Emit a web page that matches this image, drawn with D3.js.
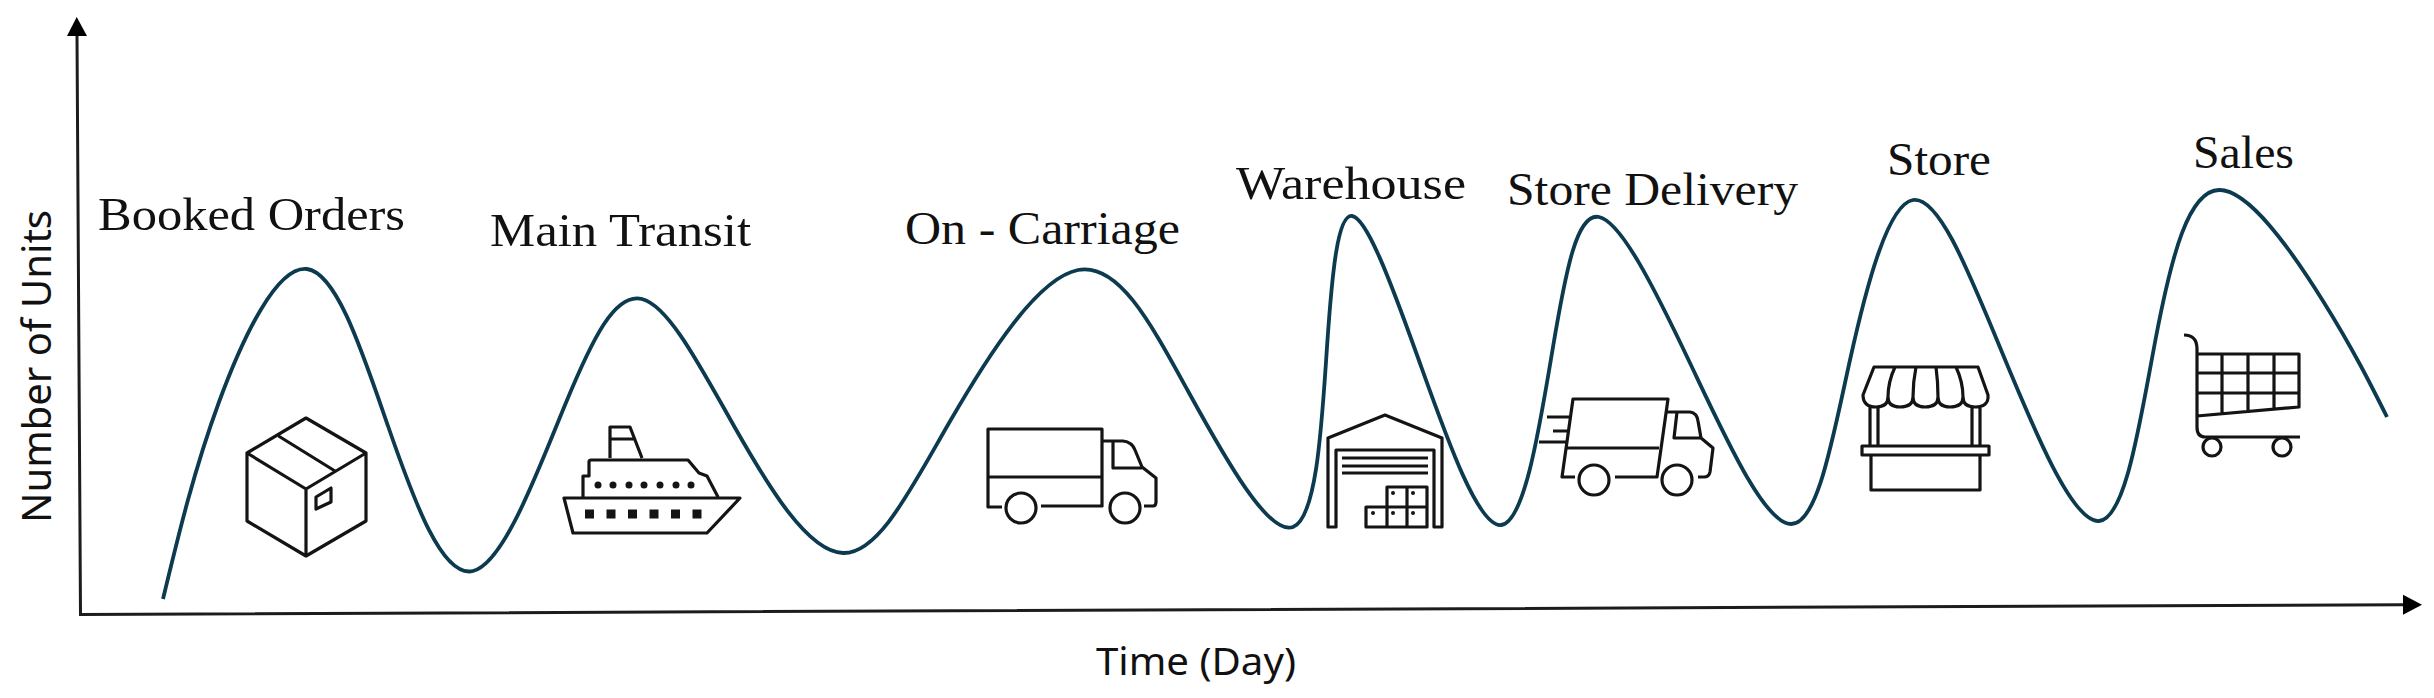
<!DOCTYPE html>
<html>
<head>
<meta charset="utf-8">
<script src="https://cdn.jsdelivr.net/npm/d3@7/dist/d3.min.js"></script>
<style>html,body{margin:0;padding:0;background:#fff;overflow:hidden}svg{display:block}</style>
</head>
<body>
<svg id="chart" width="2434" height="698"></svg>
<script>
const timeValues = [8.1,13.7,22.5,30.6,39.1,48.3,56.0,65.2,76.1,86.7,99.6,110.6,121.1,124.5,127.0,133.5,141.9,147.1,151.7,160.8,170.9,176.8,183.1,191.7,201.7,207.4,213.7,224.1,230.5];
const unitValues = [1.6,21.3,34.6,18.9,4.4,21.0,31.6,18.9,6.2,19.2,34.5,22.4,8.8,26.8,39.9,26.0,9.0,26.8,39.8,25.2,9.1,25.5,41.5,27.0,9.4,27.8,42.5,31.4,19.8];

const stages = ["Booked Orders","Main Transit","On - Carriage","Warehouse","Store Delivery","Store","Sales"];
const stageLabelTime = [1.6,40.8,82.3,115.4,142.5,180.5,211.1];
const stageLabelUnit = [38.5,36.9,37.1,41.6,41.0,44.0,44.7];
const stageLabelSpan = [30.7,26.1,27.5,23.0,29.1,10.4,10.1];
const iconTime = [16.5,48.2,90.6,124.6,145.7,178.0,210.2];
const iconUnit = [19.7,18.8,18.6,20.0,21.6,24.8,28.0];

const xAxisTitle = "Time (Day)";
const yAxisTitle = "Number of Units";

const x = d3.scaleLinear().domain([0,234]).range([82,2422]);
const y = d3.scaleLinear().domain([0,60]).range([615,15]);
const svg = d3.select("#chart");
const ink = "#141414";

// axes: the reference's are hand-drawn arrows, very slightly skewed
const axes = svg.append("g").attr("fill","none").attr("stroke","#1c1c1c").attr("stroke-width",3);
axes.append("path").attr("d",d3.line()([[x(-0.5),y(57.9)],[x(-0.15),y(0.05)],[x(232.1),y(1.03)]]));
const heads = svg.append("g").attr("fill","#000");
heads.append("path").attr("d",d3.line()([[x(-0.53),y(59.8)],[x(-1.5),y(57.9)],[x(0.5),y(57.9)]])+"Z");
heads.append("path").attr("d",d3.line()([[x(234),y(1.03)],[x(232.1),y(2.03)],[x(232.1),y(0.03)]])+"Z");

// curve
svg.append("path")
  .datum(timeValues.map((t,i)=>[t,unitValues[i]]))
  .attr("fill","none").attr("stroke","#0c3a4f").attr("stroke-width",3.8)
  .attr("d",d3.line().x(d=>x(d[0])).y(d=>y(d[1])).curve(d3.curveNatural));

// stage labels
svg.append("g").selectAll("text").data(stages).join("text")
  .attr("x",(d,i)=>x(stageLabelTime[i])).attr("y",(d,i)=>y(stageLabelUnit[i]))
  .attr("textLength",(d,i)=>x(stageLabelSpan[i])-x(0)).attr("lengthAdjust","spacingAndGlyphs")
  .attr("font-family","'Liberation Serif',serif").attr("font-size",46).attr("fill","#111")
  .text(d=>d);

// axis titles
svg.append("text").attr("x",x(101.4)).attr("y",y(-6)).attr("textLength",200).attr("lengthAdjust","spacingAndGlyphs")
  .attr("font-family","'Noto Sans',sans-serif").attr("font-size",38).attr("fill","#111").text(xAxisTitle);
svg.append("text").attr("transform","translate(51,523) rotate(-90)").attr("textLength",313).attr("lengthAdjust","spacingAndGlyphs")
  .attr("font-family","'Noto Sans',sans-serif").attr("font-size",40).attr("fill","#111").text(yAxisTitle);

// pictograms, in local icon space
const iconPaths = [
 "M59 0L119 35V103L59 138L0 103V35ZM0 35L59 71L119 35M59 71V138M31.5 18L88 53M69 79L84 70V84L69 91Z",
 "M0 71H176L143 106H9ZM19 70V49H25V35Q25 33 27 33H124L135 46L143 49L154 70M46 31V0H66L78 31M46 12H71",
 "M14 78H0V0H114V78M53 77H115M0 48H114M114 12H135Q144 13 147 21L154 38L168 49V73Q168 77 165 77H156M125 12V39H154",
 "M0 112V23L57 0L114 23V112H106V35H8V112ZM14 43H100M14 51H100M14 58H100M38 112V92H99V112ZM59 112V72H99V92M79 72V112",
 "M36 78H23L34 0H129L118 78H76M28 49H120M8 18H33M14 32H29M0 43H28M128 13H151Q158 14 159 22L162 39L174 49L171 73Q170 78 165 78H159M138 13L135 39H162",
 "M12 0H116L126 28Q127 40 113 40Q101 40 101 30Q101 40 88 40Q76 40 76 30Q76 40 63 40Q51 40 51 30Q51 40 38 40Q26 40 26 30Q26 40 14 40Q1 40 1 28ZM33 0Q26 15 26 30M54 0Q51 15 51 30M74 0Q76 15 76 30M94 0Q101 15 101 30M8 40V79M16 40V79M110 40V79M118 40V79M0 79H127V88H0ZM9 88V123H118V88",
 "M0 0Q13 0 13 14V92Q13 102 21 102H116M13 19H115V72L13 81M13 38H115M13 58H115M38 19V78M64 19V75.5M90 19V74"
];
const iconCircles = [
 [],
 [],
 [[33,79,15],[137,79,15]],
 [],
 [[55,81,15],[138,81,15]],
 [],
 [[28,112,9],[98,112,9]]
];
const iconDots = [
 [],
 [[34,58,3.5],[49,58,3.5],[65,58,3.5],[80,58,3.5],[96,58,3.5],[112,58,3.5],[127,58,3.5]],
 [],
 [[45,98,2],[65,98,2],[85,98,2],[65,78,2],[85,78,2]],
 [],[],[]
];
const iconSquares = [[],[25.5,47,68.5,90,111.5,133].map(c=>[c,87]),[],[],[],[],[]];

const icons = svg.append("g").selectAll("g").data(stages).join("g")
  .attr("transform",(d,i)=>`translate(${x(iconTime[i])},${y(iconUnit[i])})`);
icons.append("path").attr("d",(d,i)=>iconPaths[i])
  .attr("fill","none").attr("stroke",ink).attr("stroke-width",3.2).attr("stroke-linejoin","round");
icons.selectAll("circle.w").data((d,i)=>iconCircles[i]).join("circle").attr("class","w")
  .attr("cx",d=>d[0]).attr("cy",d=>d[1]).attr("r",d=>d[2])
  .attr("fill","none").attr("stroke",ink).attr("stroke-width",3.2);
icons.selectAll("circle.d").data((d,i)=>iconDots[i]).join("circle").attr("class","d")
  .attr("cx",d=>d[0]).attr("cy",d=>d[1]).attr("r",d=>d[2]).attr("fill",ink);
icons.selectAll("rect").data((d,i)=>iconSquares[i]).join("rect")
  .attr("x",d=>d[0]-4.5).attr("y",d=>d[1]-4.5).attr("width",9).attr("height",9).attr("fill",ink);
</script>
</body>
</html>
